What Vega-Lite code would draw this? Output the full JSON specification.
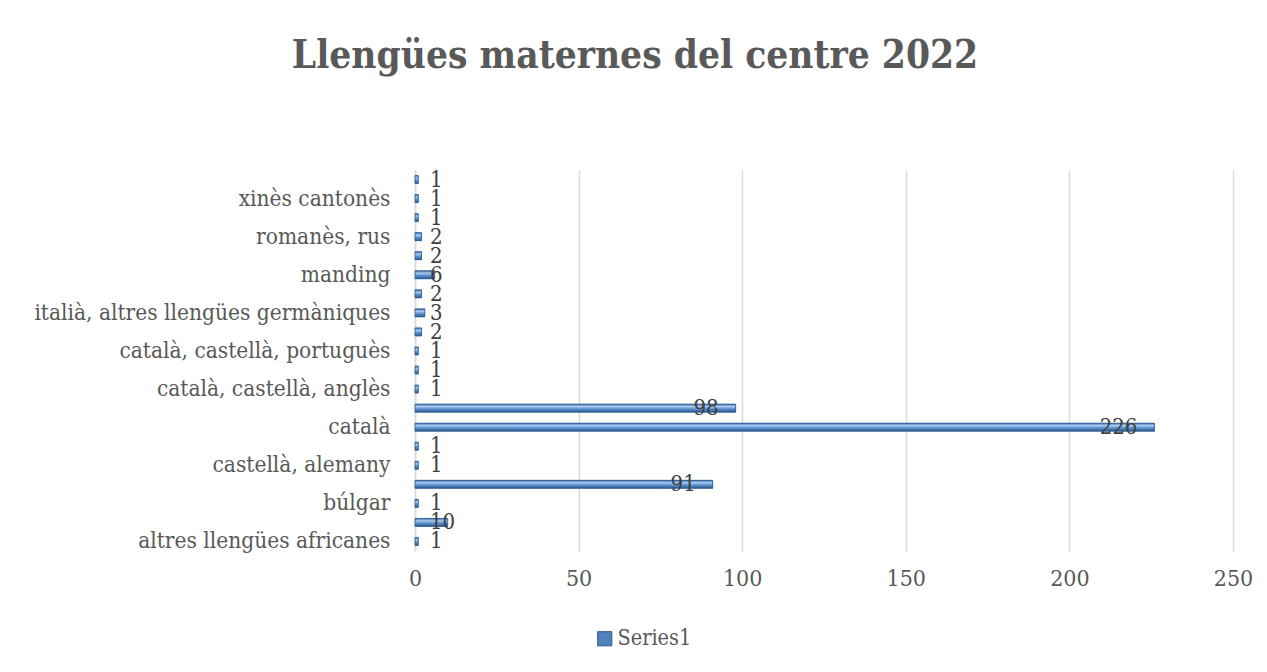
{
  "$schema": "https://vega.github.io/schema/vega-lite/v6.json",
  "width": 818,
  "height": 381,
  "autosize": {"type": "none"},
  "padding": {"left": 415, "top": 170, "right": 34, "bottom": 121},
  "background": "white",
  "title": {
    "text": "Llengües maternes del centre 2022",
    "font": "DejaVu Serif Condensed",
    "fontSize": 38.5,
    "fontWeight": "bold",
    "color": "#595959",
    "anchor": "middle",
    "dx": -189,
    "offset": 92
  },
  "config": {
    "view": {"stroke": null},
    "font": "DejaVu Serif Condensed"
  },
  "data": {
    "values": [
      {"llengua": "altres llengües africanes", "valor": 1, "serie": "Series1"},
      {"llengua": "àrab", "valor": 10, "serie": "Series1"},
      {"llengua": "búlgar", "valor": 1, "serie": "Series1"},
      {"llengua": "castellà", "valor": 91, "serie": "Series1"},
      {"llengua": "castellà, alemany", "valor": 1, "serie": "Series1"},
      {"llengua": "castellà, anglès", "valor": 1, "serie": "Series1"},
      {"llengua": "català", "valor": 226, "serie": "Series1"},
      {"llengua": "català, castellà", "valor": 98, "serie": "Series1"},
      {"llengua": "català, castellà, anglès", "valor": 1, "serie": "Series1"},
      {"llengua": "català, castellà, francès", "valor": 1, "serie": "Series1"},
      {"llengua": "català, castellà, portuguès", "valor": 1, "serie": "Series1"},
      {"llengua": "francès", "valor": 2, "serie": "Series1"},
      {"llengua": "italià, altres llengües germàniques", "valor": 3, "serie": "Series1"},
      {"llengua": "japonès", "valor": 2, "serie": "Series1"},
      {"llengua": "manding", "valor": 6, "serie": "Series1"},
      {"llengua": "portuguès", "valor": 2, "serie": "Series1"},
      {"llengua": "romanès, rus", "valor": 2, "serie": "Series1"},
      {"llengua": "ucraïnès", "valor": 1, "serie": "Series1"},
      {"llengua": "xinès cantonès", "valor": 1, "serie": "Series1"},
      {"llengua": "xinès mandarí", "valor": 1, "serie": "Series1"}
    ]
  },
  "encoding": {
    "y": {
      "field": "llengua",
      "type": "nominal",
      "sort": ["xinès mandarí", "xinès cantonès", "ucraïnès", "romanès, rus", "portuguès", "manding", "japonès", "italià, altres llengües germàniques", "francès", "català, castellà, portuguès", "català, castellà, francès", "català, castellà, anglès", "català, castellà", "català", "castellà, anglès", "castellà, alemany", "castellà", "búlgar", "àrab", "altres llengües africanes"],
      "scale": {"paddingInner": 0.58, "paddingOuter": 0.29},
      "axis": {
        "title": null,
        "ticks": false,
        "domainColor": "#D9D9D9",
        "domainWidth": 1.5,
        "labelFont": "DejaVu Serif Condensed",
        "labelFontSize": 22.5,
        "labelColor": "#595959",
        "labelPadding": 25,
        "labelLimit": 500,
        "labelOverlap": false,
        "labelExpr": "indexof(['xinès mandarí','ucraïnès','portuguès','japonès','francès','català, castellà, francès','català, castellà','castellà, anglès','castellà','àrab'], datum.value) >= 0 ? '' : datum.label"
      }
    }
  },
  "layer": [
    {
      "mark": {"type": "bar", "orient": "horizontal"},
      "encoding": {
        "x": {
          "field": "valor",
          "type": "quantitative",
          "scale": {"domain": [0, 250], "nice": false},
          "axis": {
            "title": null,
            "values": [0, 50, 100, 150, 200, 250],
            "domain": false,
            "ticks": false,
            "grid": true,
            "gridColor": "#D9D9D9",
            "gridWidth": 1.5,
            "labelFont": "DejaVu Serif Condensed",
            "labelFontSize": 23,
            "labelColor": "#595959",
            "labelPadding": 16,
            "labelFlush": false
          }
        },
        "color": {
          "field": "serie",
          "type": "nominal",
          "scale": {"range": ["#4F81BD"]},
          "legend": {
            "title": null,
            "orient": "none",
            "legendX": 179,
            "legendY": 458,
            "symbolType": "square",
            "symbolSize": 200,
            "symbolStrokeColor": "#2C5A90",
            "symbolStrokeWidth": 1,
            "labelFont": "DejaVu Serif Condensed",
            "labelFontSize": 21.5,
            "labelColor": "#595959",
            "labelOffset": 2
          }
        }
      }
    },
    {
      "mark": {
        "type": "bar",
        "orient": "horizontal",
        "stroke": "#2C5A90",
        "strokeWidth": 0.8,
        "fill": {
          "gradient": "linear",
          "x1": 0, "y1": 0, "x2": 0, "y2": 1,
          "stops": [
            {"offset": 0, "color": "#3D6BA6"},
            {"offset": 0.3, "color": "#A9CBF2"},
            {"offset": 0.6, "color": "#5B8ECB"},
            {"offset": 1, "color": "#2C5A90"}
          ]
        }
      },
      "encoding": {
        "x": {"field": "valor", "type": "quantitative"}
      }
    },
    {
      "transform": [{"filter": "datum.valor < 50"}],
      "mark": {"type": "text", "align": "left", "baseline": "middle", "dx": 15, "font": "DejaVu Serif Condensed", "fontSize": 22, "color": "#404040"},
      "encoding": {
        "x": {"datum": 0},
        "text": {"field": "valor", "type": "quantitative"}
      }
    },
    {
      "transform": [{"filter": "datum.valor >= 50"}],
      "mark": {"type": "text", "align": "right", "baseline": "middle", "dx": -17, "font": "DejaVu Serif Condensed", "fontSize": 22, "color": "#404040"},
      "encoding": {
        "x": {"field": "valor", "type": "quantitative"},
        "text": {"field": "valor", "type": "quantitative"}
      }
    }
  ]
}
